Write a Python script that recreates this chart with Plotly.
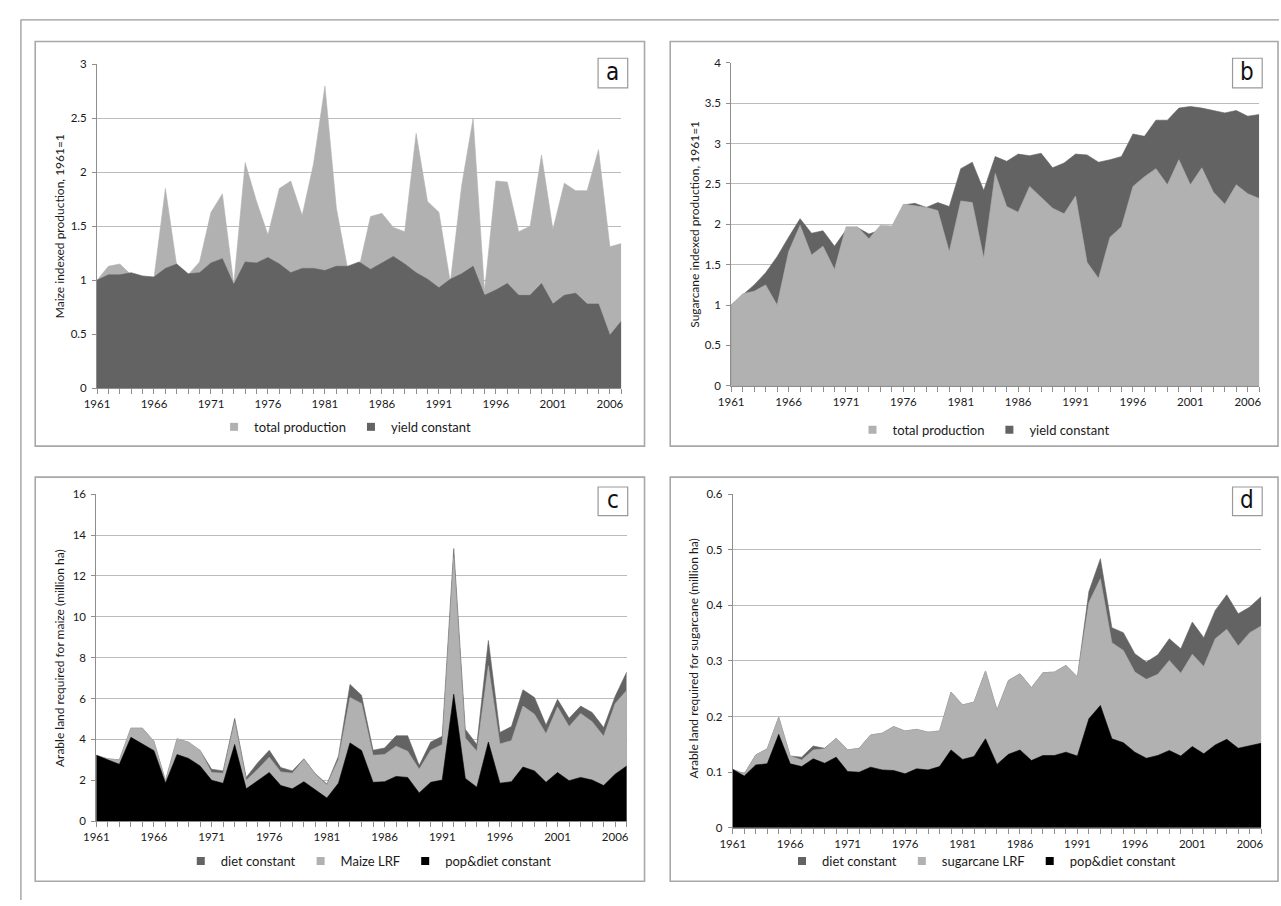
import plotly.graph_objects as go

years = list(range(1961, 2008))
xtick_years = list(range(1961, 2007, 5))

# Panel a: maize indexed production (1961=1)
a_total = [1.00, 1.13, 1.15, 1.05, 1.03, 1.02, 1.85, 1.13, 1.05, 1.17,
           1.63, 1.80, 0.96, 2.09, 1.73, 1.42, 1.85, 1.92, 1.60, 2.08,
           2.80, 1.67, 1.10, 1.12, 1.59, 1.62, 1.49, 1.45, 2.36, 1.73,
           1.63, 0.98, 1.88, 2.50, 0.90, 1.92, 1.91, 1.45, 1.50, 2.16,
           1.47, 1.90, 1.83, 1.83, 2.21, 1.31, 1.34]
a_yield = [1.00, 1.05, 1.05, 1.07, 1.04, 1.03, 1.11, 1.15, 1.06, 1.07,
           1.16, 1.20, 0.96, 1.17, 1.16, 1.21, 1.15, 1.07, 1.11, 1.11,
           1.09, 1.13, 1.13, 1.17, 1.10, 1.16, 1.22, 1.15, 1.07, 1.01,
           0.93, 1.01, 1.06, 1.13, 0.86, 0.91, 0.97, 0.86, 0.86, 0.97,
           0.78, 0.86, 0.88, 0.78, 0.78, 0.49, 0.62]

# Panel b: sugarcane indexed production (1961=1)
b_total = [1.00, 1.14, 1.17, 1.25, 1.00, 1.66, 1.99, 1.62, 1.73, 1.44,
           1.97, 1.97, 1.82, 1.99, 1.98, 2.25, 2.23, 2.21, 2.17, 1.66,
           2.29, 2.27, 1.58, 2.63, 2.22, 2.15, 2.47, 2.33, 2.20, 2.13,
           2.35, 1.53, 1.33, 1.84, 1.97, 2.47, 2.59, 2.69, 2.49, 2.80,
           2.49, 2.70, 2.40, 2.25, 2.49, 2.38, 2.32]
b_yield = [1.00, 1.13, 1.25, 1.40, 1.60, 1.84, 2.07, 1.89, 1.92, 1.73,
           1.93, 1.96, 1.88, 1.93, 1.96, 2.24, 2.26, 2.21, 2.27, 2.22,
           2.69, 2.77, 2.42, 2.84, 2.78, 2.87, 2.85, 2.88, 2.70, 2.76,
           2.87, 2.86, 2.77, 2.80, 2.84, 3.12, 3.09, 3.29, 3.29, 3.44,
           3.46, 3.44, 3.41, 3.38, 3.41, 3.34, 3.36]

# Panel c: arable land required for maize (million ha)
c_diet = [3.22, 3.05, 3.00, 4.55, 4.55, 3.90, 1.98, 4.03, 3.86, 3.46,
          2.54, 2.46, 5.03, 2.14, 2.86, 3.47, 2.62, 2.46, 3.05, 2.32,
          1.82, 3.18, 6.69, 6.16, 3.47, 3.58, 4.18, 4.18, 2.73, 3.87,
          4.15, 13.34, 4.50, 3.75, 8.84, 4.34, 4.63, 6.43, 6.05, 4.71,
          5.96, 5.03, 5.63, 5.32, 4.58, 6.11, 7.30]
c_lrf = [3.22, 3.05, 3.00, 4.55, 4.55, 3.90, 1.98, 4.03, 3.86, 3.46,
         2.38, 2.35, 4.87, 2.00, 2.54, 3.13, 2.41, 2.35, 3.02, 2.30,
         1.77, 3.02, 6.05, 5.76, 3.22, 3.26, 3.67, 3.42, 2.54, 3.47,
         3.75, 12.90, 4.07, 3.42, 7.60, 3.78, 3.94, 5.63, 5.23, 4.28,
         5.59, 4.63, 5.27, 4.87, 4.15, 5.76, 6.40]
c_pop = [3.22, 3.00, 2.78, 4.10, 3.78, 3.45, 1.86, 3.26, 3.07, 2.70,
         2.00, 1.85, 3.75, 1.58, 1.98, 2.38, 1.74, 1.58, 1.93, 1.53,
         1.13, 1.86, 3.83, 3.46, 1.90, 1.93, 2.19, 2.14, 1.38, 1.90,
         2.01, 6.21, 2.09, 1.66, 3.87, 1.86, 1.93, 2.65, 2.46, 1.90,
         2.38, 1.98, 2.14, 2.01, 1.74, 2.30, 2.70]

# Panel d: arable land required for sugarcane (million ha)
d_diet = [0.105, 0.097, 0.131, 0.142, 0.199, 0.129, 0.127, 0.147, 0.143, 0.161,
          0.140, 0.143, 0.167, 0.170, 0.182, 0.174, 0.177, 0.172, 0.174, 0.244,
          0.221, 0.226, 0.282, 0.212, 0.265, 0.277, 0.252, 0.279, 0.280, 0.292,
          0.271, 0.425, 0.484, 0.360, 0.351, 0.313, 0.298, 0.311, 0.340, 0.322,
          0.370, 0.342, 0.391, 0.419, 0.385, 0.397, 0.416]
d_lrf = [0.105, 0.097, 0.131, 0.142, 0.199, 0.129, 0.122, 0.140, 0.142, 0.161,
         0.140, 0.143, 0.167, 0.170, 0.182, 0.174, 0.177, 0.172, 0.174, 0.244,
         0.221, 0.226, 0.282, 0.212, 0.265, 0.277, 0.252, 0.279, 0.280, 0.292,
         0.271, 0.405, 0.448, 0.333, 0.319, 0.280, 0.267, 0.276, 0.301, 0.278,
         0.312, 0.290, 0.340, 0.357, 0.327, 0.351, 0.363]
d_pop = [0.105, 0.093, 0.113, 0.115, 0.168, 0.115, 0.110, 0.124, 0.116, 0.127,
         0.101, 0.100, 0.109, 0.104, 0.103, 0.097, 0.106, 0.104, 0.110, 0.140,
         0.123, 0.128, 0.160, 0.114, 0.132, 0.140, 0.121, 0.130, 0.130, 0.136,
         0.129, 0.196, 0.220, 0.160, 0.153, 0.136, 0.125, 0.130, 0.139, 0.129,
         0.146, 0.133, 0.149, 0.159, 0.143, 0.147, 0.152]

DARK = "#636363"
LIGHT = "#b1b1b1"
BLACK = "#000000"
GRID = "#bcbcbc"
AXIS = "#8e8e8e"
BORDER = "#a8a8a8"
TEXT = "#1a1a1a"
FONT = "Lato, 'Liberation Sans', sans-serif"
LABEL_FONT = "'Liberation Sans Narrow', 'DejaVu Sans Condensed', Roboto, sans-serif"

W, H = 1281, 906


def px(x):
    return x / W


def py(y):
    return 1 - y / H


fig = go.Figure()


def area(xa, ya, values, color):
    fig.add_trace(go.Scatter(
        x=years, y=values, xaxis=xa, yaxis=ya, mode="lines",
        fill="tozeroy", fillcolor=color,
        line=dict(color=color, width=0.6), showlegend=False, hoverinfo="skip"))


def legend_item(name, color, legend, rank):
    fig.add_trace(go.Scatter(
        x=[None], y=[None], mode="markers", name=name, legend=legend,
        legendrank=rank, marker=dict(symbol="square", size=8, color=color),
        hoverinfo="skip"))


# Panel a (yield constant in front)
area("x", "y", a_total, LIGHT)
area("x", "y", a_yield, DARK)
legend_item("total production", LIGHT, "legend", 1)
legend_item("yield constant", DARK, "legend", 2)

# Panel b (total production in front)
area("x2", "y2", b_yield, DARK)
area("x2", "y2", b_total, LIGHT)
legend_item("total production", LIGHT, "legend2", 1)
legend_item("yield constant", DARK, "legend2", 2)

# Panel c
area("x3", "y3", c_diet, DARK)
area("x3", "y3", c_lrf, LIGHT)
area("x3", "y3", c_pop, BLACK)
legend_item("diet constant", DARK, "legend3", 1)
legend_item("Maize LRF", LIGHT, "legend3", 2)
legend_item("pop&diet constant", BLACK, "legend3", 3)

# Panel d
area("x4", "y4", d_diet, DARK)
area("x4", "y4", d_lrf, LIGHT)
area("x4", "y4", d_pop, BLACK)
legend_item("diet constant", DARK, "legend4", 1)
legend_item("sugarcane LRF", LIGHT, "legend4", 2)
legend_item("pop&diet constant", BLACK, "legend4", 3)

tickfont = dict(family=FONT, size=11.5, color=TEXT)


def xaxis(x0, x1, anchor):
    return dict(domain=[px(x0), px(x1)], anchor=anchor, range=[1961, 2007],
                tickvals=xtick_years, ticktext=[str(v) for v in xtick_years],
                ticks="outside", ticklen=5, tickcolor=AXIS,
                minor=dict(dtick=1, tick0=1961, ticks="outside", ticklen=5,
                           tickcolor=AXIS, showgrid=False),
                showline=True, linecolor=AXIS, linewidth=1,
                showgrid=False, zeroline=False, tickfont=tickfont,
                fixedrange=True)


def yaxis(y_top, y_bot, anchor, rng, dtick):
    return dict(domain=[py(y_bot), py(y_top)], anchor=anchor, range=rng,
                dtick=dtick, ticks="outside", ticklen=4, tickcolor=AXIS,
                ticklabelstandoff=3,
                showline=True, linecolor=AXIS, linewidth=1,
                showgrid=True, gridcolor=GRID, gridwidth=1.3,
                zeroline=False, tickfont=tickfont, fixedrange=True,
                layer="below traces")


layout = dict(
    width=W, height=H, margin=dict(l=0, r=0, t=0, b=0),
    paper_bgcolor="white", plot_bgcolor="white",
    xaxis=xaxis(85, 615.5, "y"),
    yaxis=yaxis(58.3, 386.7, "x", [0, 3], 0.5),
    xaxis2=xaxis(726.7, 1261, "y2"),
    yaxis2=yaxis(56.7, 384.3, "x2", [0, 4], 0.5),
    xaxis3=xaxis(84.3, 621, "y3"),
    yaxis3=yaxis(494.3, 826, "x3", [0, 16], 2),
    xaxis4=xaxis(728.3, 1263, "y4"),
    yaxis4=yaxis(494.3, 832.7, "x4", [0, 0.6], 0.1),
    hovermode=False,
)

legfont = dict(family=FONT, size=13, color=TEXT)


def leg(xc, yc):
    return dict(orientation="h", x=px(xc), y=py(yc), xanchor="center",
                yanchor="middle", font=legfont, bgcolor="rgba(0,0,0,0)",
                itemwidth=30, traceorder="normal")


layout["legend"] = leg(336, 426)
layout["legend2"] = leg(982, 429)
layout["legend3"] = leg(360, 866.5)
layout["legend4"] = leg(980, 866.5)

shapes = []
# outer frame (top and left)
shapes.append(dict(type="line", xref="paper", yref="paper", x0=px(8), x1=px(1281),
                   y0=py(13), y1=py(13), line=dict(color="#9a9a9a", width=1.3)))
shapes.append(dict(type="line", xref="paper", yref="paper", x0=px(8), x1=px(8),
                   y0=py(13), y1=py(906), line=dict(color="#9a9a9a", width=1.3)))
# panel frames
for (x0, y0, x1, y1) in [(22.5, 35, 639, 445.5), (665, 35, 1280, 445.5),
                         (22.5, 477, 639, 887), (665, 477, 1280, 887)]:
    shapes.append(dict(type="rect", xref="paper", yref="paper",
                       x0=px(x0), x1=px(x1), y0=py(y1), y1=py(y0),
                       line=dict(color=BORDER, width=1.6), fillcolor="rgba(0,0,0,0)",
                       layer="below"))

annotations = []
for (letter, x0, y0, x1, y1) in [("a", 592, 52, 622, 82), ("b", 1234, 52, 1264, 82),
                                 ("c", 592, 487, 622, 516), ("d", 1234, 487, 1264, 516)]:
    shapes.append(dict(type="rect", xref="paper", yref="paper",
                       x0=px(x0), x1=px(x1), y0=py(y1), y1=py(y0),
                       line=dict(color="#9a9a9a", width=1.2), fillcolor="white",
                       layer="above"))
    annotations.append(dict(text=letter, xref="paper", yref="paper",
                            x=px((x0 + x1) / 2), y=py((y0 + y1) / 2 - 1),
                            xanchor="center", yanchor="middle", showarrow=False,
                            font=dict(family=LABEL_FONT, size=24, color="#111111")))

ytitles = [("Maize indexed production, 1961=1", 47, 222),
           ("Sugarcane indexed production, 1961=1", 690, 220),
           ("Arable land required for maize (million ha)", 47, 660),
           ("Arable land required for sugarcane (million ha)", 689, 661)]
for (txt, xc, yc) in ytitles:
    annotations.append(dict(text=txt, xref="paper", yref="paper", x=px(xc), y=py(yc),
                            xanchor="center", yanchor="middle", textangle=-90,
                            showarrow=False,
                            font=dict(family=FONT, size=12, color=TEXT)))

layout["shapes"] = shapes
layout["annotations"] = annotations
fig.update_layout(**layout)

post = ("document.documentElement.style.margin='0';"
        "document.body.style.margin='0';"
        "document.body.style.padding='0';"
        "document.body.style.overflow='hidden';"
        "document.documentElement.style.overflow='hidden';"
        "var gd=document.getElementsByClassName('plotly-graph-div')[0];"
        "gd.style.position='fixed';gd.style.left='0px';gd.style.top='0px';")
fig.write_html("out.html", post_script=post,
               config={"displayModeBar": False})
